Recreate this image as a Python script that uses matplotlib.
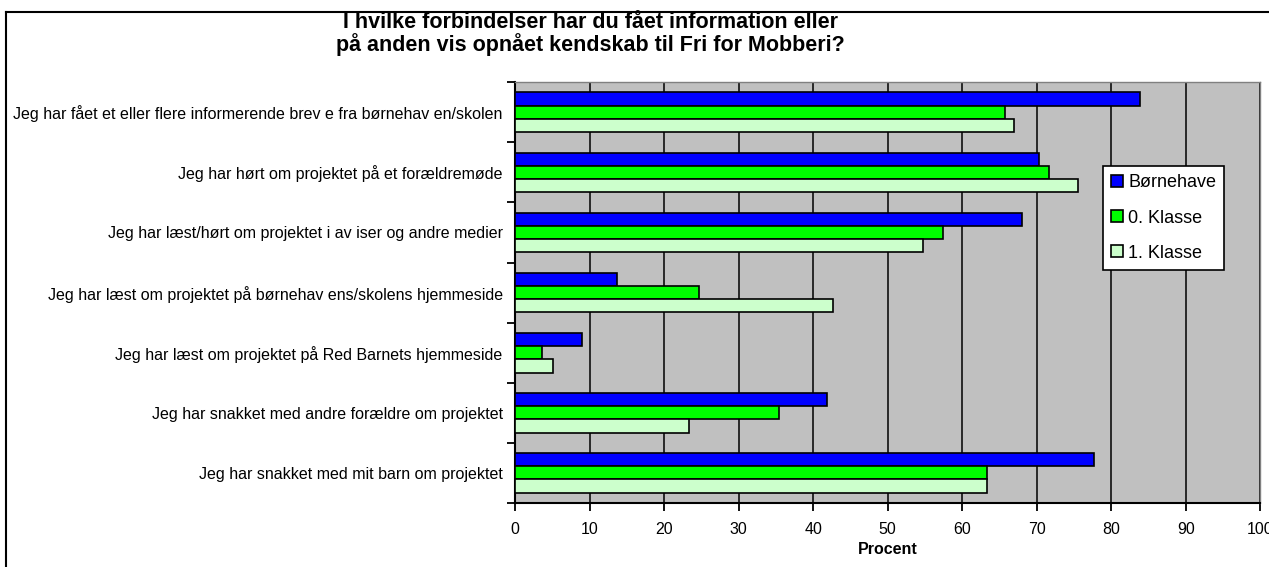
import numpy as np
import matplotlib.pyplot as plt
from matplotlib.lines import Line2D

plt.rcParams['font.family'] = ['Liberation Sans', 'DejaVu Sans']

# Data (percent)
categories = [
    "Jeg har fået et eller flere informerende brev e fra børnehav en/skolen",
    "Jeg har hørt om projektet på et forældremøde",
    "Jeg har læst/hørt om projektet i av iser og andre medier",
    "Jeg har læst om projektet på børnehav ens/skolens hjemmeside",
    "Jeg har læst om projektet på Red Barnets hjemmeside",
    "Jeg har snakket med andre forældre om projektet",
    "Jeg har snakket med mit barn om projektet",
]
boernehave = [83.9, 70.3, 68.1, 13.6, 8.9, 41.8, 77.7]
klasse0 = [65.7, 71.6, 57.4, 24.7, 3.6, 35.4, 63.3]
klasse1 = [66.9, 75.5, 54.7, 42.7, 5.1, 23.3, 63.3]
series_names = ["Børnehave", "0. Klasse", "1. Klasse"]
x_ticks = list(range(0, 101, 10))

colors = ['#0000FF', '#00FF00', '#CCFFCC']

fig = plt.figure(figsize=(12.69, 5.67), dpi=100)
ax = fig.add_axes([0.406, 0.113, 0.587, 0.742])

y = np.arange(len(categories))
h = 0.22
for i, (vals, name) in enumerate(zip([boernehave, klasse0, klasse1], series_names)):
    ax.barh(y + (i - 1) * h, vals, height=h, color=colors[i], edgecolor='black',
            linewidth=1.2, label=name, zorder=3)

ax.set_ylim(len(categories) - 0.5, -0.5)
ax.set_xlim(0, 100)
ax.set_facecolor('#C0C0C0')

# Gridlines
ax.set_xticks(x_ticks)
ax.grid(axis='x', color='black', linewidth=1.1, zorder=1)
ax.set_axisbelow(True)

# Category labels centered on bands, tick marks at band boundaries
ax.set_yticks(y)
ax.set_yticklabels(categories, fontsize=11.5)
ax.set_yticks(np.arange(-0.5, len(categories), 1), minor=True)
ax.tick_params(axis='y', which='major', length=0, pad=9)
ax.tick_params(axis='y', which='minor', length=6, width=1.3, direction='out')
ax.tick_params(axis='x', length=6, width=1.3, direction='out', labelsize=11.5, pad=8)

for s in ['top', 'right']:
    ax.spines[s].set_color('#808080')
    ax.spines[s].set_linewidth(1)
for s in ['left', 'bottom']:
    ax.spines[s].set_linewidth(1.5)

ax.set_xlabel('Procent', fontsize=11.5, fontweight='bold', labelpad=3)

fig.text(0.465, 0.94, "I hvilke forbindelser har du fået information eller\npå anden vis opnået kendskab til Fri for Mobberi?",
         ha='center', va='center', fontsize=15.5, fontweight='bold', linespacing=1.0)

leg = ax.legend(loc='upper left', bbox_to_anchor=(0.789, 0.80), fontsize=13,
                frameon=True, fancybox=False, edgecolor='black', framealpha=1,
                handlelength=0.65, handleheight=0.65, handletextpad=0.3,
                labelspacing=1.0, borderpad=0.45, borderaxespad=0)
leg.get_frame().set_linewidth(1.2)

# Outer chart border (left and top edges visible)
fig.add_artist(Line2D([0.005, 0.005], [0.0, 0.979], color='black', linewidth=1.5))
fig.add_artist(Line2D([0.005, 1.0], [0.979, 0.979], color='black', linewidth=1.5))

fig.savefig('out.png', dpi=100)
